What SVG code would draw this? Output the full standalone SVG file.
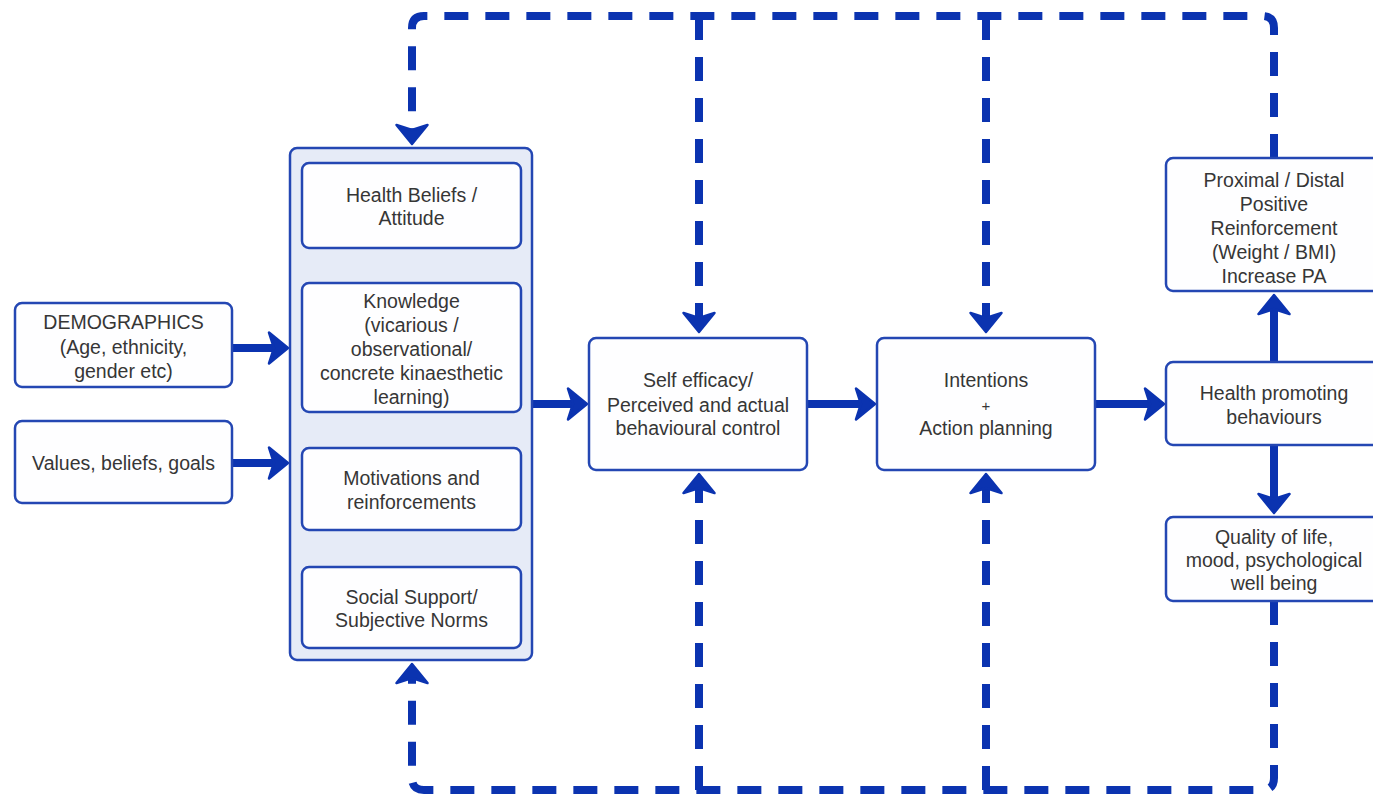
<svg xmlns="http://www.w3.org/2000/svg" width="1373" height="795" viewBox="0 0 1373 795">
<defs>
<marker id="ah" markerUnits="userSpaceOnUse" viewBox="-23 -18 25 36" refX="-14" refY="0" markerWidth="25" markerHeight="36" orient="auto" overflow="visible">
<path d="M0,0 L-19,-15.5 L-14,0 L-19,15.5 Z" fill="#0b33b0" stroke="#0b33b0" stroke-width="2.5" stroke-linejoin="round"/>
</marker>
</defs>
<style>
.box{fill:#fefeff;stroke:#2447b3;stroke-width:2.5}
.cont{fill:#e6ebf7;stroke:#2447b3;stroke-width:2.5}
.t{font-family:"Liberation Sans",Arial,sans-serif;font-size:19.5px;fill:#363636;text-anchor:middle}
.solid{fill:none;stroke:#0b33b0;stroke-width:8;marker-end:url(#ah)}
.dash{fill:none;stroke:#0b33b0;stroke-width:8;stroke-dasharray:24 17}
.dashA{fill:none;stroke:#0b33b0;stroke-width:8;stroke-dasharray:24 17;marker-end:url(#ah)}
</style>
<rect width="1373" height="795" fill="#ffffff"/>

<g id="connectors">
<path class="solid" d="M232,348 H274"/>
<path class="solid" d="M232,463 H274"/>
<path class="solid" d="M532,404 H573"/>
<path class="solid" d="M807,404 H861"/>
<path class="solid" d="M1095,404 H1150"/>
<path class="solid" d="M1274,362 V309"/>
<path class="solid" d="M1274,445 V499"/>
<path class="dashA" d="M1274,158 V28 Q1274,16 1262,16 H424 Q412,16 412,28 V130"/>
<path class="dashA" d="M699,16 V318"/>
<path class="dashA" d="M986,16 V318"/>
<path class="dashA" d="M1274,601 V778 Q1274,790 1262,790 H424 Q412,790 412,778 V678"/>
<path class="dashA" d="M699,790 V488"/>
<path class="dashA" d="M986,790 V488"/>
</g>

<g id="demographics">
<rect class="box" x="15" y="303" width="217" height="84" rx="7"/>
<text class="t" x="123.5" y="329">DEMOGRAPHICS</text>
<text class="t" x="123.5" y="354">(Age, ethnicity,</text>
<text class="t" x="123.5" y="378">gender etc)</text>
</g>
<g id="values">
<rect class="box" x="15" y="421" width="217" height="82" rx="7"/>
<text class="t" x="123.5" y="470">Values, beliefs, goals</text>
</g>

<g id="container">
<rect class="cont" x="290" y="148" width="242" height="512" rx="7"/>
</g>
<g id="health-beliefs">
<rect class="box" x="302" y="163" width="219" height="85" rx="7"/>
<text class="t" x="411.5" y="202">Health Beliefs /</text>
<text class="t" x="411.5" y="225">Attitude</text>
</g>
<g id="knowledge">
<rect class="box" x="302" y="283" width="219" height="129" rx="7"/>
<text class="t" x="411.5" y="308">Knowledge</text>
<text class="t" x="411.5" y="332">(vicarious /</text>
<text class="t" x="411.5" y="356">observational/</text>
<text class="t" x="411.5" y="380">concrete kinaesthetic</text>
<text class="t" x="411.5" y="404">learning)</text>
</g>
<g id="motivations">
<rect class="box" x="302" y="448" width="219" height="82" rx="7"/>
<text class="t" x="411.5" y="485">Motivations and</text>
<text class="t" x="411.5" y="509">reinforcements</text>
</g>
<g id="social-support">
<rect class="box" x="302" y="567" width="219" height="81" rx="7"/>
<text class="t" x="411.5" y="604">Social Support/</text>
<text class="t" x="411.5" y="627">Subjective Norms</text>
</g>

<g id="self-efficacy">
<rect class="box" x="589" y="338" width="218" height="132" rx="7"/>
<text class="t" x="698" y="387">Self efficacy/</text>
<text class="t" x="698" y="412">Perceived and actual</text>
<text class="t" x="698" y="435">behavioural control</text>
</g>
<g id="intentions">
<rect class="box" x="877" y="338" width="218" height="132" rx="7"/>
<text class="t" x="986" y="387">Intentions</text>
<text class="t" x="986" y="411" style="font-size:15px">+</text>
<text class="t" x="986" y="435">Action planning</text>
</g>

<g id="proximal">
<rect class="box" x="1166" y="158" width="230" height="133" rx="7"/>
<text class="t" x="1274" y="187">Proximal / Distal</text>
<text class="t" x="1274" y="211">Positive</text>
<text class="t" x="1274" y="235">Reinforcement</text>
<text class="t" x="1274" y="259">(Weight / BMI)</text>
<text class="t" x="1274" y="283">Increase PA</text>
</g>
<g id="health-promoting">
<rect class="box" x="1166" y="362" width="230" height="83" rx="7"/>
<text class="t" x="1274" y="400">Health promoting</text>
<text class="t" x="1274" y="424">behaviours</text>
</g>
<g id="quality">
<rect class="box" x="1166" y="517" width="230" height="84" rx="7"/>
<text class="t" x="1274" y="544">Quality of life,</text>
<text class="t" x="1274" y="567">mood, psychological</text>
<text class="t" x="1274" y="590">well being</text>
</g>
</svg>
